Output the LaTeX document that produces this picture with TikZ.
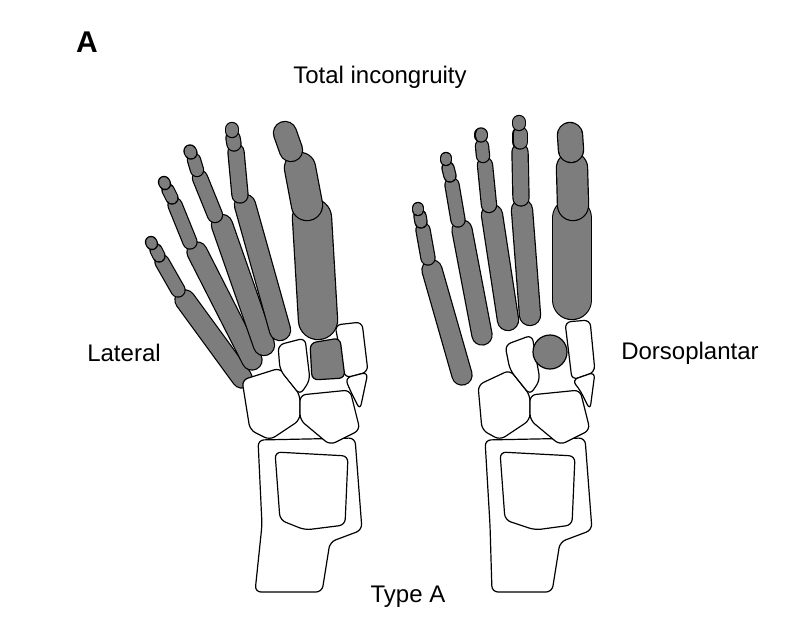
\documentclass[tikz,border=0pt]{standalone}
\usepackage{fontspec}
\setmainfont{Liberation Sans}
\definecolor{bonegray}{RGB}{125,125,125}
\newcommand\bn[3]{\draw[line width=#3pt+2.4pt,line cap=round] (#1)--(#2);\draw[line width=#3pt,line cap=round,color=bonegray] (#1)--(#2);}
\begin{document}
\begin{tikzpicture}[x=1pt,y=-1pt,tar/.style={draw,fill=white,line width=1.2pt,rounded corners=6pt},lab/.style={font=\fontsize{24}{28}\selectfont}]
\useasboundingbox (0,0) rectangle (802,628);
\node[font=\bfseries\fontsize{30}{32}\selectfont] (A) at (87,42) {A};
\node[lab] (t1) at (380,77) {Total incongruity};
\node[lab] (t2) at (124,353) {Lateral};
\node[lab] (t3) at (690,353) {Dorsoplantar};
\node[lab] (t4) at (408,597) {Type A};
% left rays
\bn{242,378}{185,300}{19} \bn{178,290}{162,262}{13} \bn{159,256}{156,250}{11} \bn{152,244}{151,242}{10}
\bn{252,360}{197,252}{19} \bn{190,242}{175,205}{13} \bn{172,198}{168,190}{11} \bn{165,184}{164,182}{10}
\bn{264,345}{222,225}{20} \bn{215,215}{200,178}{14} \bn{197,170}{194,160}{12} \bn{191,153}{190,151}{11}
\bn{280,330}{245,205}{20} \bn{240,195}{236,152}{15} \bn{234,144}{233,138}{13} \bn{232,131}{232,129}{12}
\bn{318,320}{312,218}{38} \bn{307,205}{300,168}{30} \bn{291,150}{285,133}{22}
% right rays
\bn{462,375}{432,270}{19} \bn{428,258}{423,230}{13} \bn{421,222}{420,216}{11} \bn{418,210}{418,208}{10}
\bn{482,335}{462,230}{19} \bn{458,220}{452,185}{13} \bn{450,176}{448,168}{11} \bn{446,160}{446,158}{10}
\bn{508,320}{492,215}{20} \bn{489,205}{485,165}{14} \bn{483,156}{482,146}{12} \bn{481,136}{481,134}{11}
\bn{530,315}{522,210}{20} \bn{521,198}{520,152}{15} \bn{520,142}{520,134}{13} \bn{519,124}{519,122}{12}
\bn{572,300}{572,218}{38} \bn{573,205}{572,168}{30} \bn{571,150}{570,135}{24}
% left foot tarsals
\draw[tar] (258,440)--(355,438)--(362,530)--(330,542)--(322,592)--(255,592)--(262,525)--cycle;
\draw[tar] (275,452)--(348,456)--(345,525)--(305,530)--(280,520)--cycle;
\draw[tar] (242,380)--(280,368)--(300,395)--(300,420)--(270,440)--(250,430)--cycle;
\draw[tar] (300,395)--(350,390)--(360,430)--(330,445)--(300,420)--cycle;
\draw[tar] (278,345)--(305,338)--(310,380)--(300,395)--(280,370)--cycle;
\draw[tar] (335,325)--(362,322)--(368,372)--(345,378)--cycle;
\draw[tar] (345,378)--(368,372)--(360,410)--(350,390)--cycle;
\draw[tar,fill=bonegray] (310,343)--(340,338)--(345,378)--(312,380)--cycle;
% right foot tarsals
\draw[tar] (485,440)--(585,438)--(592,530)--(560,542)--(552,592)--(492,592)--(490,525)--cycle;
\draw[tar] (500,452)--(575,456)--(572,525)--(535,530)--(505,520)--cycle;
\draw[tar] (478,385)--(510,370)--(530,395)--(530,420)--(500,440)--(482,430)--cycle;
\draw[tar] (530,395)--(580,390)--(590,430)--(560,445)--(530,420)--cycle;
\draw[tar] (505,345)--(532,335)--(540,380)--(530,395)--(510,370)--cycle;
\draw[tar] (565,322)--(590,320)--(595,372)--(572,380)--cycle;
\draw[tar] (572,380)--(595,372)--(590,410)--(580,390)--cycle;
\draw[fill=bonegray,line width=1.2pt] (550,352) circle (17);
\end{tikzpicture}
\end{document}
